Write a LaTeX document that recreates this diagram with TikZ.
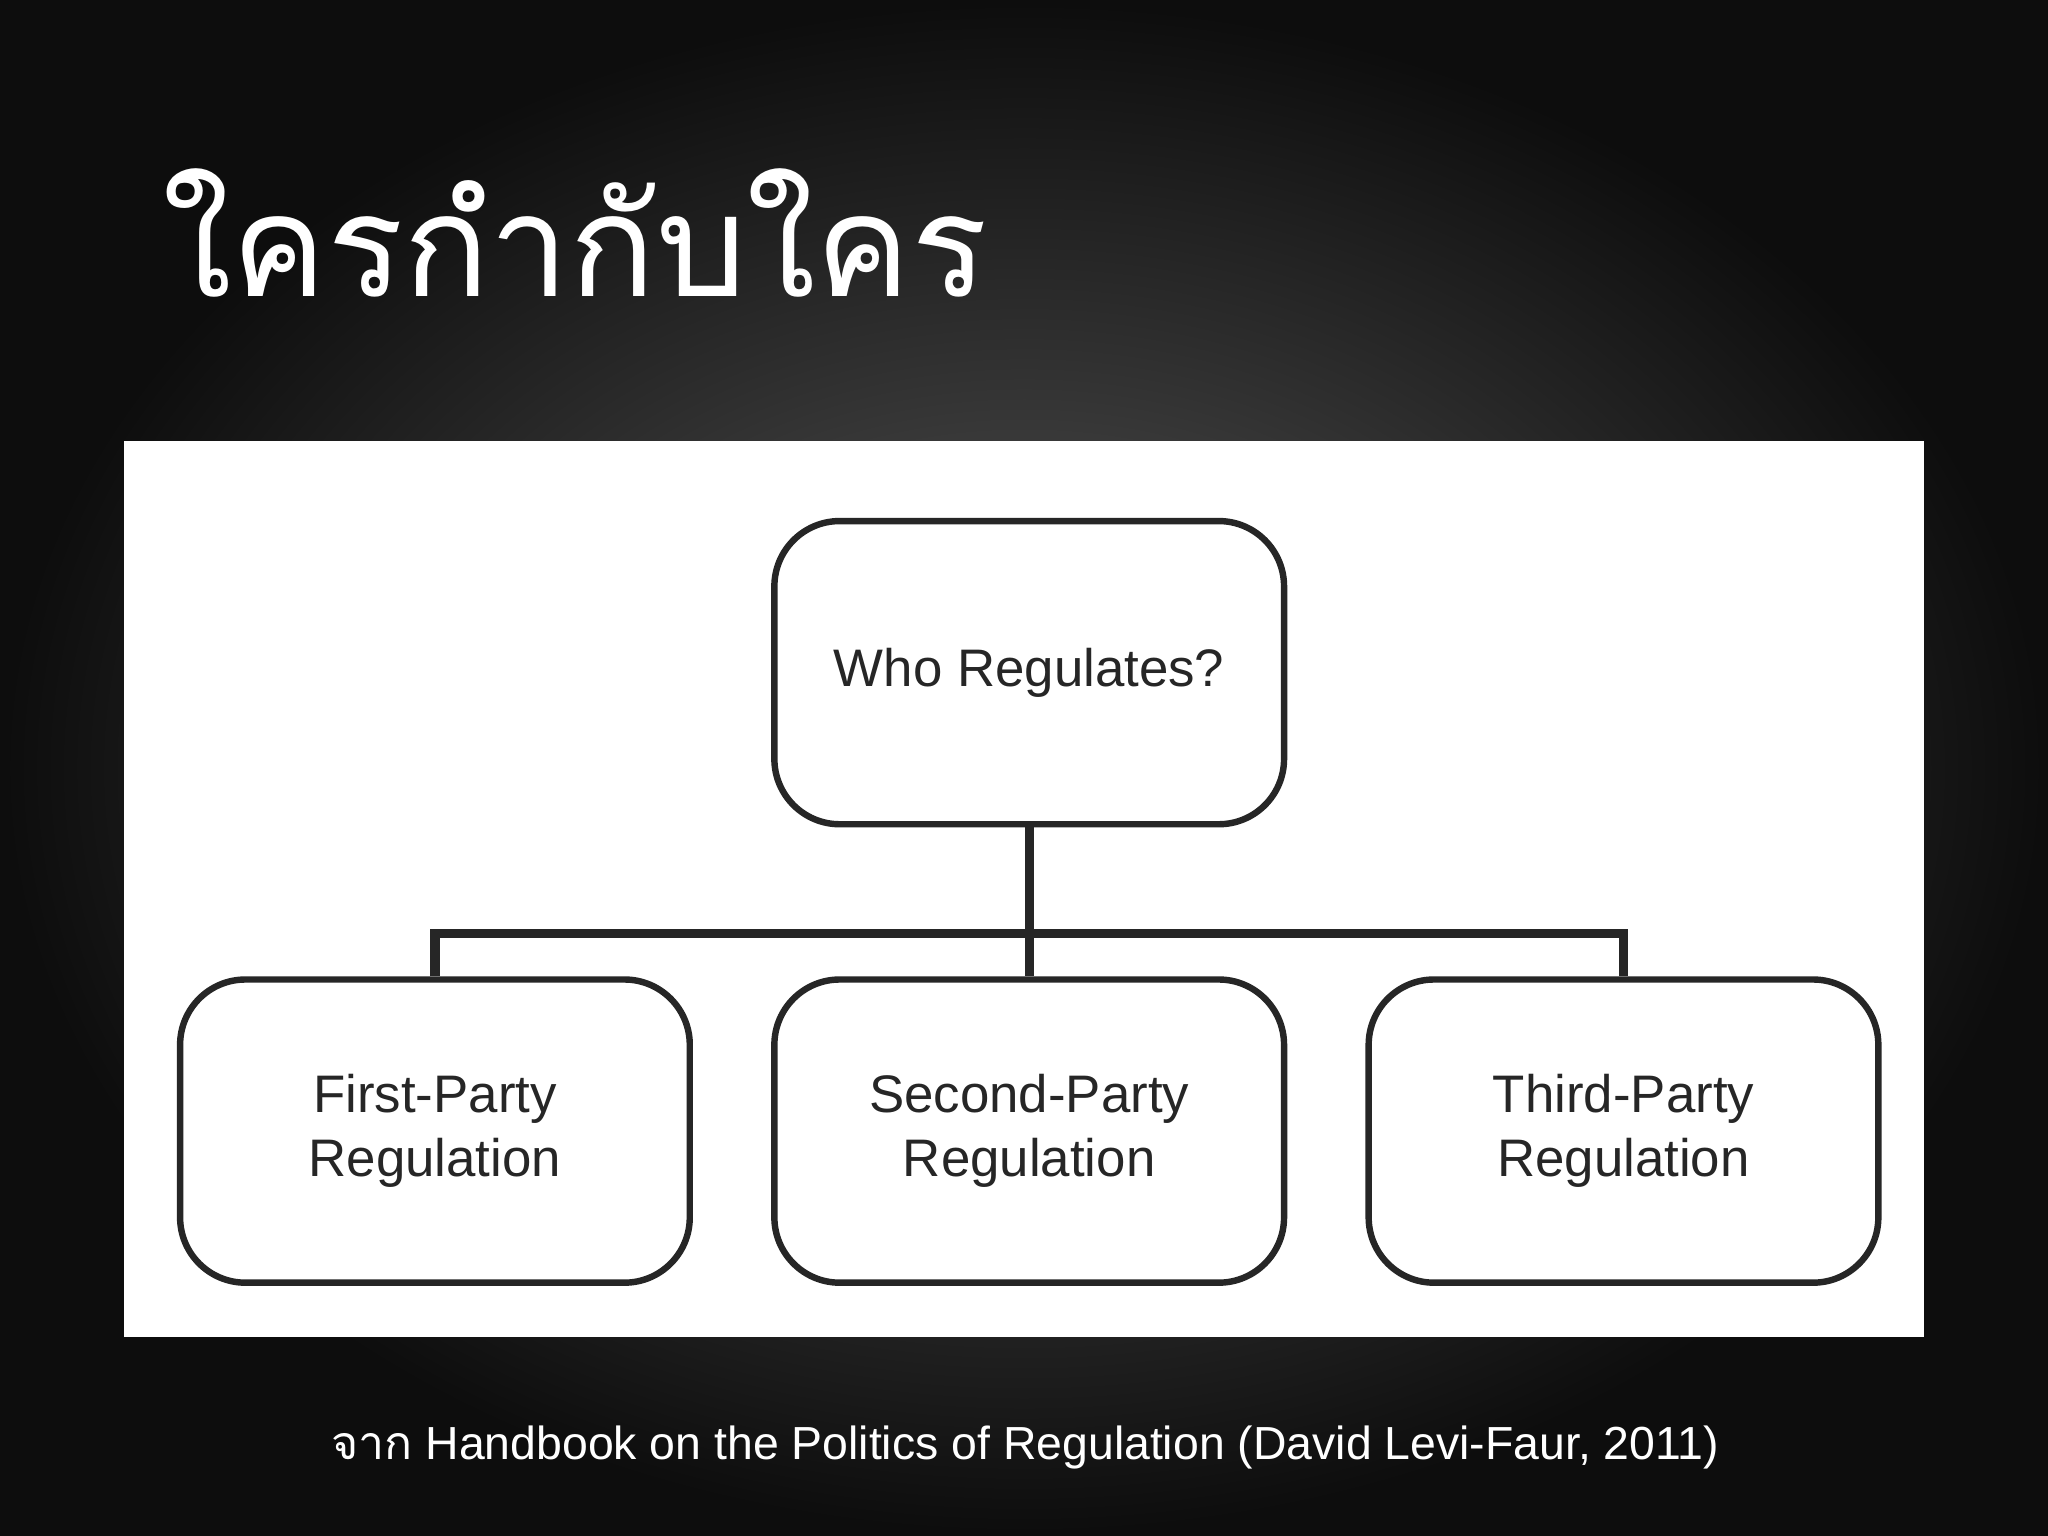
\documentclass[tikz,border=0pt]{standalone}
\usepackage{fontspec}
\setmainfont{Liberation Sans}
\newfontfamily\thaifont[Script=Thai]{Loma}
\begin{document}
\begin{tikzpicture}[x=0.01cm,y=-0.01cm,
  box/.style={draw=black!85,line width=1.4pt,rounded corners=0.5cm,minimum width=3.9cm,minimum height=2.32cm,align=center,font=\fontsize{11.5}{14}\selectfont,text=black!85},
  conn/.style={draw=black!85,line width=2pt}]
\useasboundingbox (0,0) rectangle (1568,1176);
\fill[black!95] (0,0) rectangle (1568,1176);
\shade[inner color=black!65,outer color=black!95] (0,0) rectangle (1568,1176);
\node[anchor=west,text=white,font=\thaifont\fontsize{31}{36}\selectfont] (title) at (112,178) {ใครกำกับใคร};
\fill[white] (95,338) rectangle (1473,1024);
\node[box] (top) at (788,515) {Who Regulates?};
\node[box] (b1) at (333,866) {First-Party\\Regulation};
\node[box] (b2) at (788,866) {Second-Party\\Regulation};
\node[box] (b3) at (1243,866) {Third-Party\\Regulation};
\coordinate (j) at (788,715);
\draw[conn] (top.south) -- (j);
\draw[conn] (b1.north) |- (j) -| (b3.north);
\draw[conn] (j) -- (b2.north);
\node[text=white,font=\fontsize{10.1}{12}\selectfont] (cap) at (785,1108) {{\thaifont จาก} Handbook on the Politics of Regulation (David Levi-Faur, 2011)};
\end{tikzpicture}
\end{document}
